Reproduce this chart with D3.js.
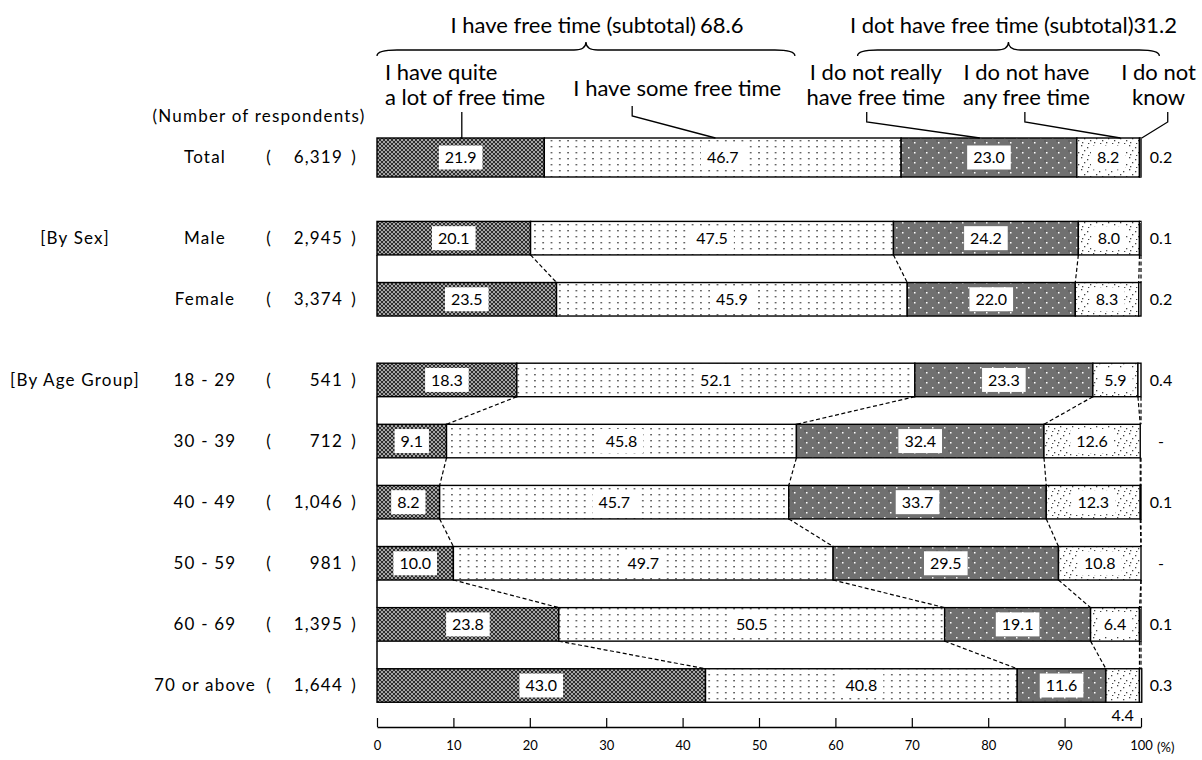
<!DOCTYPE html>
<html><head><meta charset="utf-8">
<script src="https://cdn.jsdelivr.net/npm/d3@7"></script>
<style>
html,body{margin:0;padding:0;background:#fff;}
svg{display:block;font-family:Lato,"Noto Sans",sans-serif;}
</style></head>
<body>
<svg id="c" width="1202" height="760"></svg>
<script>
// ---------- data ----------
const categories = ["Total","Male","Female","18 - 29","30 - 39","40 - 49","50 - 59","60 - 69","70 or above"];
const respondents = ["6,319","2,945","3,374","541","712","1,046","981","1,395","1,644"];
const groupOf = [0,1,1,2,2,2,2,2,2];
const groupLabels = ["", "[By Sex]", "[By Age Group]"];
const quiteALot   = [21.9,20.1,23.5,18.3, 9.1, 8.2,10.0,23.8,43.0];
const someFree    = [46.7,47.5,45.9,52.1,45.8,45.7,49.7,50.5,40.8];
const notReally   = [23.0,24.2,22.0,23.3,32.4,33.7,29.5,19.1,11.6];
const notAny      = [ 8.2, 8.0, 8.3, 5.9,12.6,12.3,10.8, 6.4, 4.4];
const dontKnow    = [ 0.2, 0.1, 0.2, 0.4,null, 0.1,null, 0.1, 0.3];
const seriesNames = ["I have quite\na lot of free time","I have some free time","I do not really\nhave free time","I do not have\nany free time","I do not\nknow"];
const subtotalLabels = ["I have free time (subtotal)","I dot have free time (subtotal)"];
const subtotalValues = ["68.6","31.2"];
const xTicks = [0,10,20,30,40,50,60,70,80,90,100];

// ---------- layout ----------
const svg = d3.select("#c");
const x = d3.scaleLinear().domain([0,100]).range([377,1141]);
const slot = categories.map((c,i)=> i + groupOf[i]*0.32);
const y = d3.scaleLinear().domain([0,8.64]).range([157.5,685.5]);
const barH = i => i===0 ? 39 : 33.5;

// patterns
const defs = svg.append("defs");
function pat(id,w,h,bg,fn){
  const p = defs.append("pattern").attr("id",id).attr("patternUnits","userSpaceOnUse").attr("width",w).attr("height",h);
  p.append("rect").attr("width",w).attr("height",h).attr("fill",bg);
  fn(p);
}
pat("p0",4,4,"#8a8a8a",p=>{
  p.append("path").attr("d","M0,0L4,4M4,0L0,4").attr("stroke","#222").attr("stroke-width",0.9);
  p.append("circle").attr("cx",2).attr("cy",0).attr("r",0.6).attr("fill","#fff");
  p.append("circle").attr("cx",0).attr("cy",2).attr("r",0.6).attr("fill","#fff");
  p.append("circle").attr("cx",4).attr("cy",2).attr("r",0.6).attr("fill","#fff");
  p.append("circle").attr("cx",2).attr("cy",4).attr("r",0.6).attr("fill","#fff");
});
pat("p1",8.3,6,"#fff",p=>{
  p.append("rect").attr("x",3).attr("y",2).attr("width",1.4).attr("height",1.4).attr("fill","#333");
});
pat("p2",12,10,"#707070",p=>{
  p.append("path").attr("d","M0,0L2,2M2,0L0,2").attr("stroke","#555").attr("stroke-width",0.5);
  p.append("rect").attr("x",2).attr("y",2).attr("width",1.5).attr("height",1.5).attr("fill","#fff");
  p.append("rect").attr("x",8).attr("y",7).attr("width",1.5).attr("height",1.5).attr("fill","#fff");
});
pat("p3",12,12,"#fff",p=>{
  [[1,1],[7,3],[4,6],[10,8],[2,10],[8,11]].forEach(d=>p.append("rect").attr("x",d[0]).attr("y",d[1]).attr("width",1.3).attr("height",1.3).attr("fill","#444"));
});
const fills = ["url(#p0)","url(#p1)","url(#p2)","url(#p3)","#fff"];

const series = [quiteALot,someFree,notReally,notAny,dontKnow];
const rows = categories.map((c,i)=>{
  let cum = 0;
  const segs = series.map((s,k)=>{
    const v = s[i]==null ? 0 : s[i];
    const x0 = cum; cum += v;
    return {k, v, label:s[i], x0, x1: k===4 ? Math.max(cum,100) : cum};
  });
  return {i, c, segs, cy: y(slot[i]), h: barH(i)};
});

// connectors
const gConn = svg.append("g");
rows.forEach((r,idx)=>{
  if(idx===0) return;
  const prev = rows[idx-1];
  if(groupOf[idx]!==groupOf[idx-1]) return;
  const yTop = prev.cy + prev.h/2, yBot = r.cy - r.h/2;
  gConn.append("line").attr("x1",x(0)).attr("x2",x(0)).attr("y1",yTop).attr("y2",yBot).attr("stroke","#000").attr("stroke-width",1.5);
  [0,1,2,3].forEach(k=>{
    gConn.append("line").attr("x1",x(prev.segs[k].x1)).attr("x2",x(r.segs[k].x1)).attr("y1",yTop).attr("y2",yBot)
      .attr("stroke","#000").attr("stroke-width",1.2).attr("stroke-dasharray","4,2.5");
  });
  gConn.append("line").attr("x1",x(100)).attr("x2",x(100)).attr("y1",yTop).attr("y2",yBot)
      .attr("stroke","#000").attr("stroke-width",1.2).attr("stroke-dasharray","4,2.5");
});

// bars
const gBars = svg.append("g");
rows.forEach(r=>{
  r.segs.forEach(s=>{
    if(s.k===4 && !s.label) return;
    gBars.append("rect").attr("x",x(s.x0)).attr("y",r.cy-r.h/2).attr("width",Math.max(0,x(s.x1)-x(s.x0))).attr("height",r.h)
      .attr("fill",fills[s.k]).attr("stroke","#000").attr("stroke-width",1.4);
  });
});

// value labels
const gLab = svg.append("g").attr("font-size",16).attr("fill","#000");
rows.forEach(r=>{
  r.segs.forEach(s=>{
    const txt = s.label==null ? "-" : s.label.toFixed(1);
    if(s.k===4){
      gLab.append("text").attr("x",x(100)+20).attr("y",r.cy).attr("dy","0.35em").attr("text-anchor","middle").text(txt);
      return;
    }
    const cx = (x(s.x0)+x(s.x1))/2;
    if(x(s.x1)-x(s.x0) < 40){
      gLab.append("text").attr("x",cx).attr("y",r.cy+r.h/2+13).attr("dy","0.35em").attr("text-anchor","middle").text(txt);
      return;
    }
    const t = gLab.append("text").attr("x",cx).attr("y",r.cy).attr("dy","0.35em").attr("text-anchor","middle").text(txt);
    const w = t.node().getComputedTextLength();
    gLab.insert("rect","text").attr("x",cx-w/2-6).attr("y",r.cy-12).attr("width",w+12).attr("height",24).attr("fill","#fff");
  });
});
gLab.selectAll("rect").lower();

// left labels
const gLeft = svg.append("g").attr("font-size",17).attr("fill","#000").attr("letter-spacing","1.2");
gLeft.append("text").attr("x",259).attr("y",y(0)-41).attr("dy","0.35em").attr("text-anchor","middle").text("(Number of respondents)");
rows.forEach(r=>{
  gLeft.append("text").attr("x",205).attr("y",r.cy).attr("dy","0.35em").attr("text-anchor","middle").text(r.c);
  gLeft.append("text").attr("x",269).attr("y",r.cy).attr("dy","0.35em").attr("text-anchor","middle").text("(");
  gLeft.append("text").attr("x",343).attr("y",r.cy).attr("dy","0.35em").attr("text-anchor","end").text(respondents[r.i]);
  gLeft.append("text").attr("x",354).attr("y",r.cy).attr("dy","0.35em").attr("text-anchor","middle").text(")");
  if(r.i===0 || groupOf[r.i]!==groupOf[r.i-1]){
    if(groupLabels[groupOf[r.i]]) gLeft.append("text").attr("x",75).attr("y",r.cy).attr("dy","0.35em").attr("text-anchor","middle").text(groupLabels[groupOf[r.i]]);
  }
});

// axis
const axisY = 727;
const ax = svg.append("g").attr("transform",`translate(0,${axisY})`)
  .call(d3.axisBottom(x).tickValues(xTicks).tickSizeInner(-9).tickSizeOuter(0).tickPadding(14).tickFormat(d3.format("d")));
ax.select(".domain").attr("stroke-width",1.3);
ax.selectAll(".tick line").attr("stroke-width",1.2);
ax.selectAll("text").attr("font-size",13).attr("font-family","Lato,sans-serif");
svg.append("text").attr("x",x(100)+16).attr("y",axisY+20).attr("dy","0.35em").attr("font-size",13).text("(%)");

// header: braces, subtotals, series names, leaders
const gH = svg.append("g").attr("fill","none").attr("stroke","#000").attr("stroke-width",1.3);
function brace(xa,xb,yEnd,yTip){
  const xm=(xa+xb)/2, ym=(yEnd+yTip)/2+1;
  return `M${xa},${yEnd} Q${xa},${ym} ${xa+20},${ym} L${xm-12},${ym} Q${xm},${ym} ${xm},${yTip} Q${xm},${ym} ${xm+12},${ym} L${xb-20},${ym} Q${xb},${ym} ${xb},${yEnd}`;
}
const braceSpans = [[0,54.7],[62.9,102.4]];
braceSpans.forEach(b=>gH.append("path").attr("d",brace(x(b[0]),x(b[1]),56,42)));

const gT = svg.append("g").attr("font-size",22).attr("fill","#000");
subtotalLabels.forEach((s,k)=>{
  const cx = x((braceSpans[k][0]+braceSpans[k][1])/2)+ (k===0?11:5);
  const t = gT.append("text").attr("x",cx).attr("y",33).attr("text-anchor","middle");
  t.append("tspan").text(s);
  t.append("tspan").attr("dx",k===0?4:0).text(subtotalValues[k]);
});

// series name labels
const nameAnchor = [1.05, 39.3, 65.3, 85.0, 102.3];
const nameAlign  = ["start","middle","middle","middle","middle"];
const leaderFrom = [11.1, 33.4, 64.1, 84.8, 103.5];
const leaderTo   = [10.9, 44.3, 78.9, 97.3, 100.1];
seriesNames.forEach((n,k)=>{
  const lines = n.split("\n");
  const ys = lines.length===1 ? [96] : [80,105];
  lines.forEach((l,j)=>{
    gT.append("text").attr("x",x(nameAnchor[k])).attr("y",ys[j]).attr("text-anchor", nameAlign[k]).text(l);
  });
});
const barTop = rows[0].cy - rows[0].h/2;
seriesNames.forEach((n,k)=>{
  const fx = x(leaderFrom[k]), tx = x(leaderTo[k]);
  const startY = k===1 ? 106 : 112;
  const knee = k===0 ? barTop : startY+10;
  gH.append("path").attr("d",`M${fx},${startY} L${fx},${knee} L${tx},${barTop}`);
});
</script>
</body></html>
